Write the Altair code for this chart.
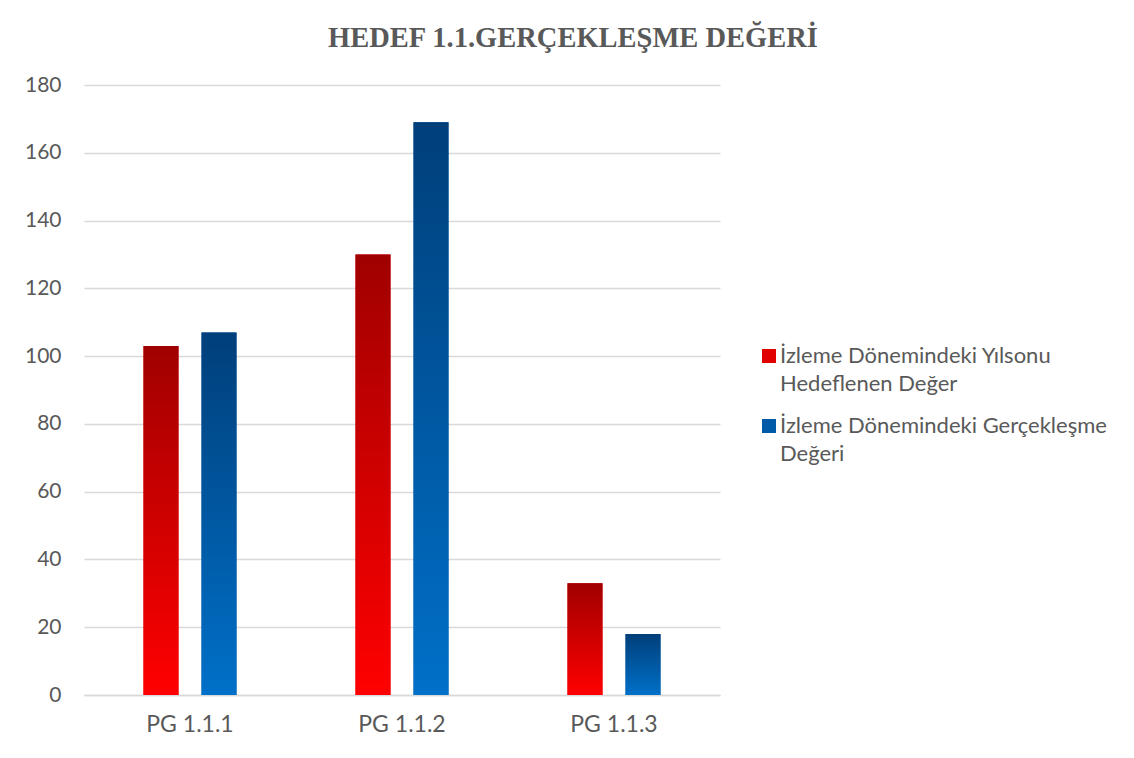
import altair as alt
import pandas as pd

categories = ["PG 1.1.1", "PG 1.1.2", "PG 1.1.3"]
series_names = ["İzleme Dönemindeki Yılsonu Hedeflenen Değer",
                "İzleme Dönemindeki Gerçekleşme Değeri"]
target_values = [103, 130, 33]
actual_values = [107, 169, 18]
y_ticks = [0, 20, 40, 60, 80, 100, 120, 140, 160, 180]

rows = []
for c, t, a in zip(categories, target_values, actual_values):
    rows.append({"kategori": c, "seri": series_names[0], "deger": t})
    rows.append({"kategori": c, "seri": series_names[1], "deger": a})
df = pd.DataFrame(rows)

FONT = "Lato"
GRAY = "#595959"

red_grad = alt.Gradient(gradient="linear", x1=0, y1=0, x2=0, y2=1,
                        stops=[alt.GradientStop(color="#a00000", offset=0),
                               alt.GradientStop(color="#ff0000", offset=1)])
blue_grad = alt.Gradient(gradient="linear", x1=0, y1=0, x2=0, y2=1,
                         stops=[alt.GradientStop(color="#003f7a", offset=0),
                                alt.GradientStop(color="#0070c8", offset=1)])

x_enc = alt.X("kategori:N", sort=categories,
              scale=alt.Scale(paddingInner=0.014, paddingOuter=0.007),
              axis=alt.Axis(title=None, labelAngle=0, labelFontSize=23, labelFont=FONT,
                            labelColor=GRAY, labelPadding=18, ticks=False,
                            domainColor="#d9d9d9", domainWidth=1.5, grid=False))
xo_enc = alt.XOffset("seri:N", sort=series_names,
                     scale=alt.Scale(domain=series_names, paddingInner=0.397, paddingOuter=1.0))
y_enc = alt.Y("deger:Q", scale=alt.Scale(domain=[0, 180]),
              axis=alt.Axis(title=None, values=y_ticks, labelFontSize=21, labelFont=FONT,
                            labelColor=GRAY, labelPadding=23, ticks=False, domain=False,
                            gridColor="#d9d9d9", gridWidth=1.5))

base = alt.Chart(df)

legend_layer = base.mark_bar().encode(
    x=x_enc, xOffset=xo_enc, y=y_enc,
    color=alt.Color("seri:N", sort=series_names,
                    scale=alt.Scale(domain=series_names, range=["#e00000", "#005aa8"]),
                    legend=alt.Legend(
                        title=None, orient="none", legendX=674, legendY=260,
                        symbolType="square", symbolSize=196, symbolStrokeWidth=0,
                        labelFontSize=22, labelFont=FONT, labelColor=GRAY,
                        labelLimit=400, rowPadding=20, labelOffset=0,
                        labelExpr="datum.label == 'İzleme Dönemindeki Yılsonu Hedeflenen Değer' ? ['İzleme Dönemindeki Yılsonu', 'Hedeflenen Değer'] : ['İzleme Dönemindeki Gerçekleşme', 'Değeri']"))
)

red_layer = base.transform_filter(alt.datum.seri == series_names[0]).mark_bar(color=red_grad).encode(
    x=x_enc, xOffset=xo_enc, y=y_enc)
blue_layer = base.transform_filter(alt.datum.seri == series_names[1]).mark_bar(color=blue_grad).encode(
    x=x_enc, xOffset=xo_enc, y=y_enc)

chart = alt.layer(legend_layer, red_layer, blue_layer).properties(
    width=636, height=610,
    title=alt.TitleParams("HEDEF 1.1.GERÇEKLEŞME DEĞERİ", font="Liberation Serif",
                          fontSize=28.5, fontWeight="bold", color=GRAY, anchor="middle",
                          dx=171, offset=22),
    autosize=alt.AutoSizeParams(type="none"),
    padding={"left": 76, "top": 77, "right": 406, "bottom": 55},
).configure(style={"guide-label": {"lineHeight": 28}}).configure_view(strokeWidth=0, stroke="transparent")

chart.save("out.html", embed_options={"renderer": "svg", "actions": False})
